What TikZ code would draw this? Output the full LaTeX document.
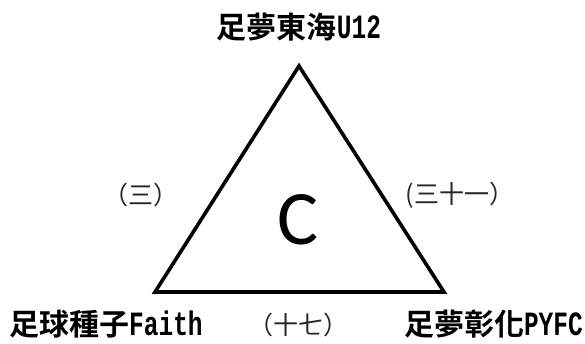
\documentclass[tikz,border=0pt]{standalone}
\usepackage{fontspec}
\newfontfamily\cjk{Noto Sans CJK TC}
\newfontfamily\cjkb{Noto Sans CJK TC Bold}
\newfontfamily\lmono[FakeStretch=0.72]{Liberation Mono Bold}
\newfontfamily\carl{Carlito}
\newcommand\latn[1]{{\lmono\fontsize{34}{34}\selectfont #1}}
\begin{document}
\begin{tikzpicture}[x=1pt,y=-1pt,
  team/.style={inner sep=0pt,font=\fontsize{30}{32}\selectfont\cjkb},
  score/.style={inner sep=0pt,text=black!85,font=\fontsize{25}{27}\selectfont\cjk}]
\useasboundingbox (0,0) rectangle (585,343);
\coordinate (top) at (299,66);
\coordinate (bl) at (155,292);
\coordinate (br) at (444,292);
\draw[line width=3.6pt,line join=miter] (top) -- (br) -- (bl) -- cycle;
\node[inner sep=0pt,font=\fontsize{77}{77}\selectfont\carl] (c) at (298,220) {C};
\node[team] (t1) at (299,27) {足夢東海\latn{U12}};
\node[team,anchor=west] (t2) at (9,324) {足球種子\latn{Faith}};
\node[team,anchor=east] (t3) at (583,324) {足夢彰化\latn{PYFC}};
\node[score] (s1) at (141,195) {（三）};
\node[score] (s2) at (460,195) {(三十一）};
\node[score] (s3) at (298,325) {（十七）};
\end{tikzpicture}
\end{document}
